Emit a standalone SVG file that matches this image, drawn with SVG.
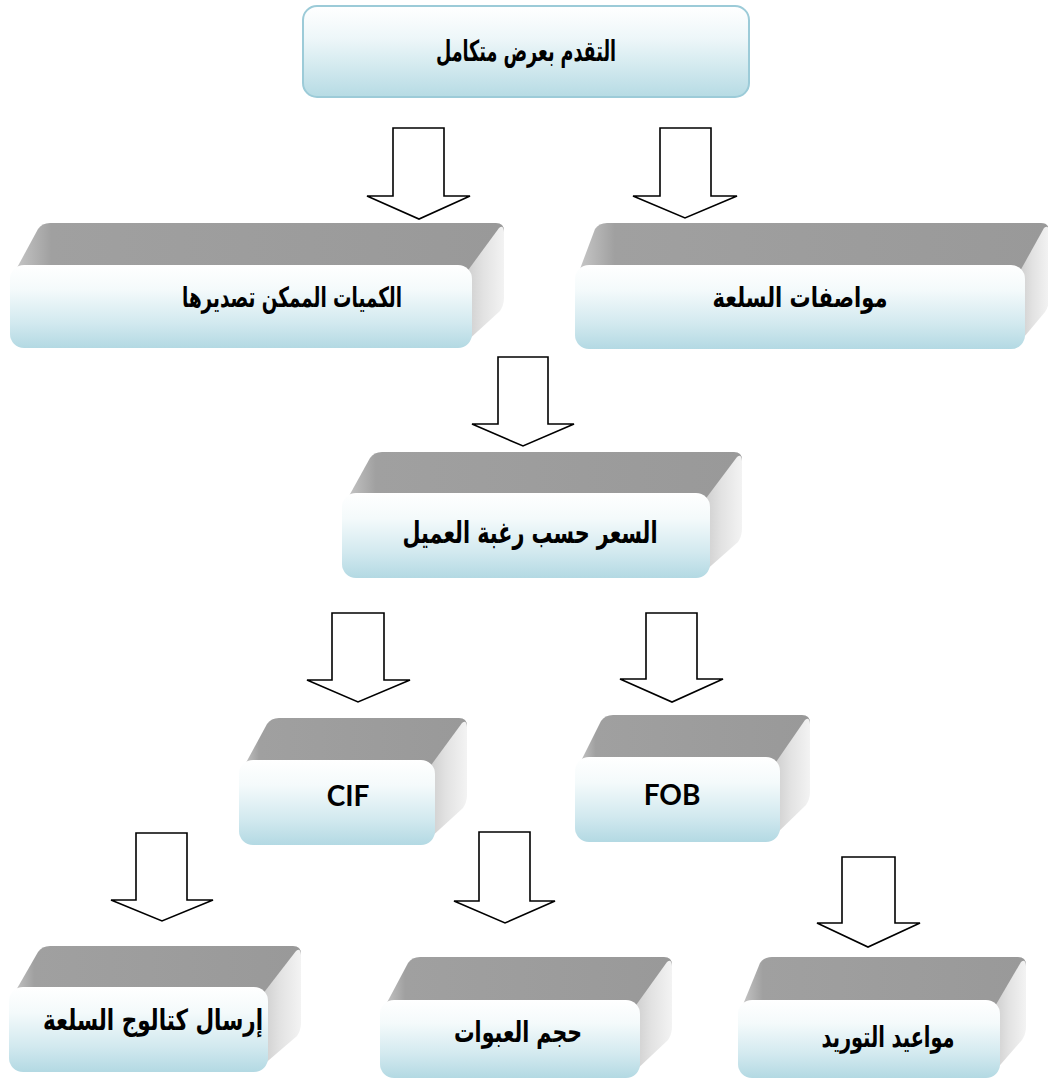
<svg xmlns="http://www.w3.org/2000/svg" width="1048" height="1085" viewBox="0 0 1048 1085">
  <defs>
    <linearGradient id="frontGrad" x1="0" y1="0" x2="0" y2="1">
      <stop offset="0" stop-color="#ffffff"/>
      <stop offset="0.3" stop-color="#f4fafb"/>
      <stop offset="0.7" stop-color="#d2e9ef"/>
      <stop offset="1" stop-color="#b3d9e3"/>
    </linearGradient>
    <linearGradient id="topGrad" x1="0" y1="0" x2="1" y2="0">
      <stop offset="0" stop-color="#c9c9c9"/>
      <stop offset="0.08" stop-color="#a0a0a0"/>
      <stop offset="1" stop-color="#999999"/>
    </linearGradient>
    <linearGradient id="sideGrad" x1="0" y1="0" x2="1" y2="0">
      <stop offset="0" stop-color="#cdcdcd"/>
      <stop offset="0.45" stop-color="#e2e2e2"/>
      <stop offset="1" stop-color="#f3f3f3"/>
    </linearGradient>
    <linearGradient id="headGrad" x1="0" y1="0" x2="0" y2="1">
      <stop offset="0" stop-color="#ffffff"/>
      <stop offset="0.35" stop-color="#eef7f9"/>
      <stop offset="1" stop-color="#b6dbe4"/>
    </linearGradient>
  </defs>
  <style>
    .top { fill: url(#topGrad); }
    .side { fill: url(#sideGrad); }
    .front { fill: url(#frontGrad); }
    .head { fill: url(#headGrad); stroke: #9ccbd8; stroke-width: 2; }
    .arrow { fill: #ffffff; stroke: #000000; stroke-width: 1.6; stroke-linejoin: miter; }
    .ar { font-family: "DejaVu Sans", sans-serif; font-weight: bold; fill: #000000; text-anchor: middle; }
    .lat { font-family: Lato, "Open Sans", sans-serif; font-weight: bold; fill: #000000; text-anchor: middle; font-size: 28px; }
  </style>

  <rect width="1048" height="1085" fill="#ffffff"/>

  <!-- block arrows between levels -->
  <g id="connectors">
    <polygon class="arrow" points="393,128 444,128 444,196 470,196 419,219 367,196 393,196"/>
    <polygon class="arrow" points="660,128 711,128 711,196 737,196 685,218 633,196 660,196"/>
    <polygon class="arrow" points="498,357 548,357 548,424 574,424 523,446 472,424 498,424"/>
    <polygon class="arrow" points="332,613 384,613 384,680 410,680 358,702 307,680 332,680"/>
    <polygon class="arrow" points="646,613 697,613 697,679 723,679 672,702 620,679 646,679"/>
    <polygon class="arrow" points="136,833 187,833 187,900 213,900 162,921 111,900 136,900"/>
    <polygon class="arrow" points="479,832 530,832 530,901 555,901 505,923 454,901 479,901"/>
    <polygon class="arrow" points="842,857 895,857 895,923 920,923 868,947 817,923 842,923"/>
  </g>

  <!-- heading -->
  <g id="node-offer">
    <rect class="head" x="303" y="6" width="446" height="91" rx="14"/>
    <text class="ar" x="526" y="61" font-size="29" textLength="180" lengthAdjust="spacingAndGlyphs">التقدم بعرض متكامل</text>
  </g>

  <!-- quantities -->
  <g id="node-quantities">
    <path class="top" d="M12,277 L38,229 Q42,223 50,223 L496,223 Q504,223 504,231 L472,277 Z"/>
    <path class="side" d="M466,273 L499,228 Q504,224 504,233 L504,298 Q504,305 500,311 L466,342 Z"/>
    <rect class="front" x="10" y="265" width="462" height="83" rx="14"/>
    <text class="ar" x="292" y="307" font-size="28" textLength="220" lengthAdjust="spacingAndGlyphs">الكميات الممكن تصديرها</text>
  </g>

  <!-- specifications -->
  <g id="node-specs">
    <path class="top" d="M577,277 L595,229 Q599,223 607,223 L1041,223 Q1049,223 1049,231 L1025,277 Z"/>
    <path class="side" d="M1019,273 L1044,228 Q1049,224 1049,233 L1049,299 Q1049,306 1045,312 L1019,343 Z"/>
    <rect class="front" x="575" y="265" width="450" height="84" rx="14"/>
    <text class="ar" x="800" y="307" font-size="28" textLength="175" lengthAdjust="spacingAndGlyphs">مواصفات السلعة</text>
  </g>

  <!-- price -->
  <g id="node-price">
    <path class="top" d="M344,505 L370,458 Q374,452 382,452 L734,452 Q742,452 742,460 L710,505 Z"/>
    <path class="side" d="M704,501 L737,457 Q742,453 742,462 L742,529 Q742,536 738,542 L704,572 Z"/>
    <rect class="front" x="342" y="493" width="368" height="85" rx="14"/>
    <text class="ar" x="530" y="543" font-size="30" textLength="255" lengthAdjust="spacingAndGlyphs">السعر حسب رغبة العميل</text>
  </g>

  <!-- CIF -->
  <g id="node-cif">
    <path class="top" d="M241,772 L267,724 Q271,718 279,718 L459,718 Q467,718 467,726 L435,772 Z"/>
    <path class="side" d="M429,768 L462,723 Q467,719 467,728 L467,795 Q467,802 463,808 L429,839 Z"/>
    <rect class="front" x="239" y="760" width="196" height="85" rx="14"/>
    <text class="lat" x="348" y="806">CIF</text>
  </g>

  <!-- FOB -->
  <g id="node-fob">
    <path class="top" d="M577,769 L601,721 Q605,715 613,715 L802,715 Q810,715 810,723 L780,769 Z"/>
    <path class="side" d="M774,765 L805,720 Q810,716 810,725 L810,792 Q810,799 806,805 L774,836 Z"/>
    <rect class="front" x="575" y="757" width="205" height="85" rx="14"/>
    <text class="lat" x="672" y="805">FOB</text>
  </g>

  <!-- catalogue -->
  <g id="node-catalogue">
    <path class="top" d="M11,999 L38,952 Q42,946 50,946 L293,946 Q301,946 301,954 L268,999 Z"/>
    <path class="side" d="M262,995 L296,951 Q301,947 301,956 L301,1023 Q301,1030 297,1036 L262,1066 Z"/>
    <rect class="front" x="9" y="987" width="259" height="85" rx="14"/>
    <text class="ar" x="153" y="1030" font-size="29" textLength="220" lengthAdjust="spacingAndGlyphs">إرسال كتالوج السلعة</text>
  </g>

  <!-- packaging -->
  <g id="node-packaging">
    <path class="top" d="M382,1012 L408,963 Q412,957 420,957 L664,957 Q672,957 672,965 L640,1012 Z"/>
    <path class="side" d="M634,1008 L667,962 Q672,958 672,967 L672,1027 Q672,1034 668,1040 L634,1072 Z"/>
    <rect class="front" x="380" y="1000" width="260" height="78" rx="14"/>
    <text class="ar" x="518" y="1042" font-size="29" textLength="128" lengthAdjust="spacingAndGlyphs">حجم العبوات</text>
  </g>

  <!-- delivery dates -->
  <g id="node-delivery">
    <path class="top" d="M740,1012 L760,963 Q764,957 772,957 L1018,957 Q1026,957 1026,965 L1000,1012 Z"/>
    <path class="side" d="M994,1008 L1021,962 Q1026,958 1026,967 L1026,1027 Q1026,1034 1022,1040 L994,1072 Z"/>
    <rect class="front" x="738" y="1000" width="262" height="78" rx="14"/>
    <text class="ar" x="888" y="1047" font-size="29" textLength="133" lengthAdjust="spacingAndGlyphs">مواعيد التوريد</text>
  </g>
</svg>
